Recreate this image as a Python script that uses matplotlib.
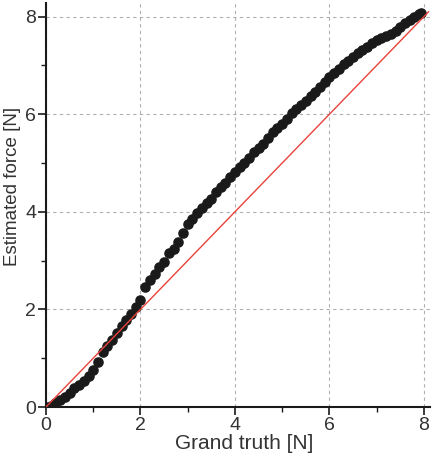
import matplotlib
matplotlib.use("Agg")
import matplotlib.pyplot as plt
from matplotlib.ticker import MultipleLocator

plt.rcParams['font.family'] = ['Liberation Sans', 'DejaVu Sans']

grand_truth = [0.0, 0.1, 0.2, 0.3, 0.4, 0.5, 0.6, 0.7, 0.8, 0.9,
               1.0, 1.1, 1.2, 1.3, 1.4, 1.5, 1.6, 1.7, 1.8, 1.9,
               2.0, 2.1, 2.2, 2.3, 2.4, 2.5, 2.6, 2.7, 2.8, 2.9,
               3.0, 3.1, 3.2, 3.3, 3.4, 3.5, 3.6, 3.7, 3.8, 3.9,
               4.0, 4.1, 4.2, 4.3, 4.4, 4.5, 4.6, 4.7, 4.8, 4.9,
               5.0, 5.1, 5.2, 5.3, 5.4, 5.5, 5.6, 5.7, 5.8, 5.9,
               6.0, 6.1, 6.2, 6.3, 6.4, 6.5, 6.6, 6.7, 6.8, 6.9,
               7.0, 7.1, 7.2, 7.3, 7.4, 7.5, 7.6, 7.7, 7.8, 7.9, 7.95]
estimated = [0.0, 0.03, 0.08, 0.14, 0.21, 0.28, 0.38, 0.46, 0.53, 0.63,
             0.76, 0.93, 1.12, 1.25, 1.38, 1.52, 1.67, 1.78, 1.91, 2.05,
             2.20, 2.45, 2.60, 2.72, 2.87, 2.97, 3.15, 3.23, 3.38, 3.57,
             3.76, 3.85, 3.98, 4.07, 4.18, 4.26, 4.40, 4.50, 4.60, 4.72,
             4.82, 4.92, 5.00, 5.10, 5.22, 5.31, 5.40, 5.52, 5.63, 5.72,
             5.80, 5.90, 6.02, 6.11, 6.18, 6.28, 6.37, 6.46, 6.56, 6.66,
             6.76, 6.85, 6.93, 7.03, 7.10, 7.17, 7.25, 7.32, 7.38, 7.47,
             7.52, 7.56, 7.60, 7.64, 7.71, 7.79, 7.86, 7.93, 7.99, 8.05, 8.08]
ideal = [0.0, 8.1]

fig = plt.figure(figsize=(4.32, 4.54), dpi=100)
ax = fig.add_axes([46/432, 47/454, 384/432, 404/454])

ax.grid(True, which='major', linestyle=(0, (3, 3)), color='#b0b0b0', linewidth=0.8)
ax.set_axisbelow(True)
ax.plot(grand_truth, estimated, 'o', color='#1a1a1a', markersize=6.6, zorder=3)
ax.plot(ideal, ideal, color='#e8433a', linewidth=1.0, zorder=4)

ax.set_xlim(0, 8.13)
ax.set_ylim(0, 8.28)
ax.xaxis.set_major_locator(MultipleLocator(2))
ax.yaxis.set_major_locator(MultipleLocator(2))
ax.xaxis.set_minor_locator(MultipleLocator(1))
ax.yaxis.set_minor_locator(MultipleLocator(1))
for s in ['top', 'right']:
    ax.spines[s].set_visible(False)
for s in ['left', 'bottom']:
    ax.spines[s].set_linewidth(1.5)
    ax.spines[s].set_color('#1a1a1a')
ax.tick_params(which='major', direction='out', length=6, width=1.2, labelsize=14,
               colors='#1a1a1a', labelcolor='#333333', pad=1)
ax.tick_params(which='minor', direction='out', length=3.5, width=1.0, colors='#1a1a1a')
ax.set_xlabel('Grand truth [N]', fontsize=15, color='#333333', labelpad=0.5)
ax.set_ylabel('Estimated force [N]', fontsize=13.5, color='#333333')
ax.xaxis.label.set_x(0.516)
ax.yaxis.set_label_coords(-0.064, 0.545)

fig.savefig('out.png', dpi=100)
